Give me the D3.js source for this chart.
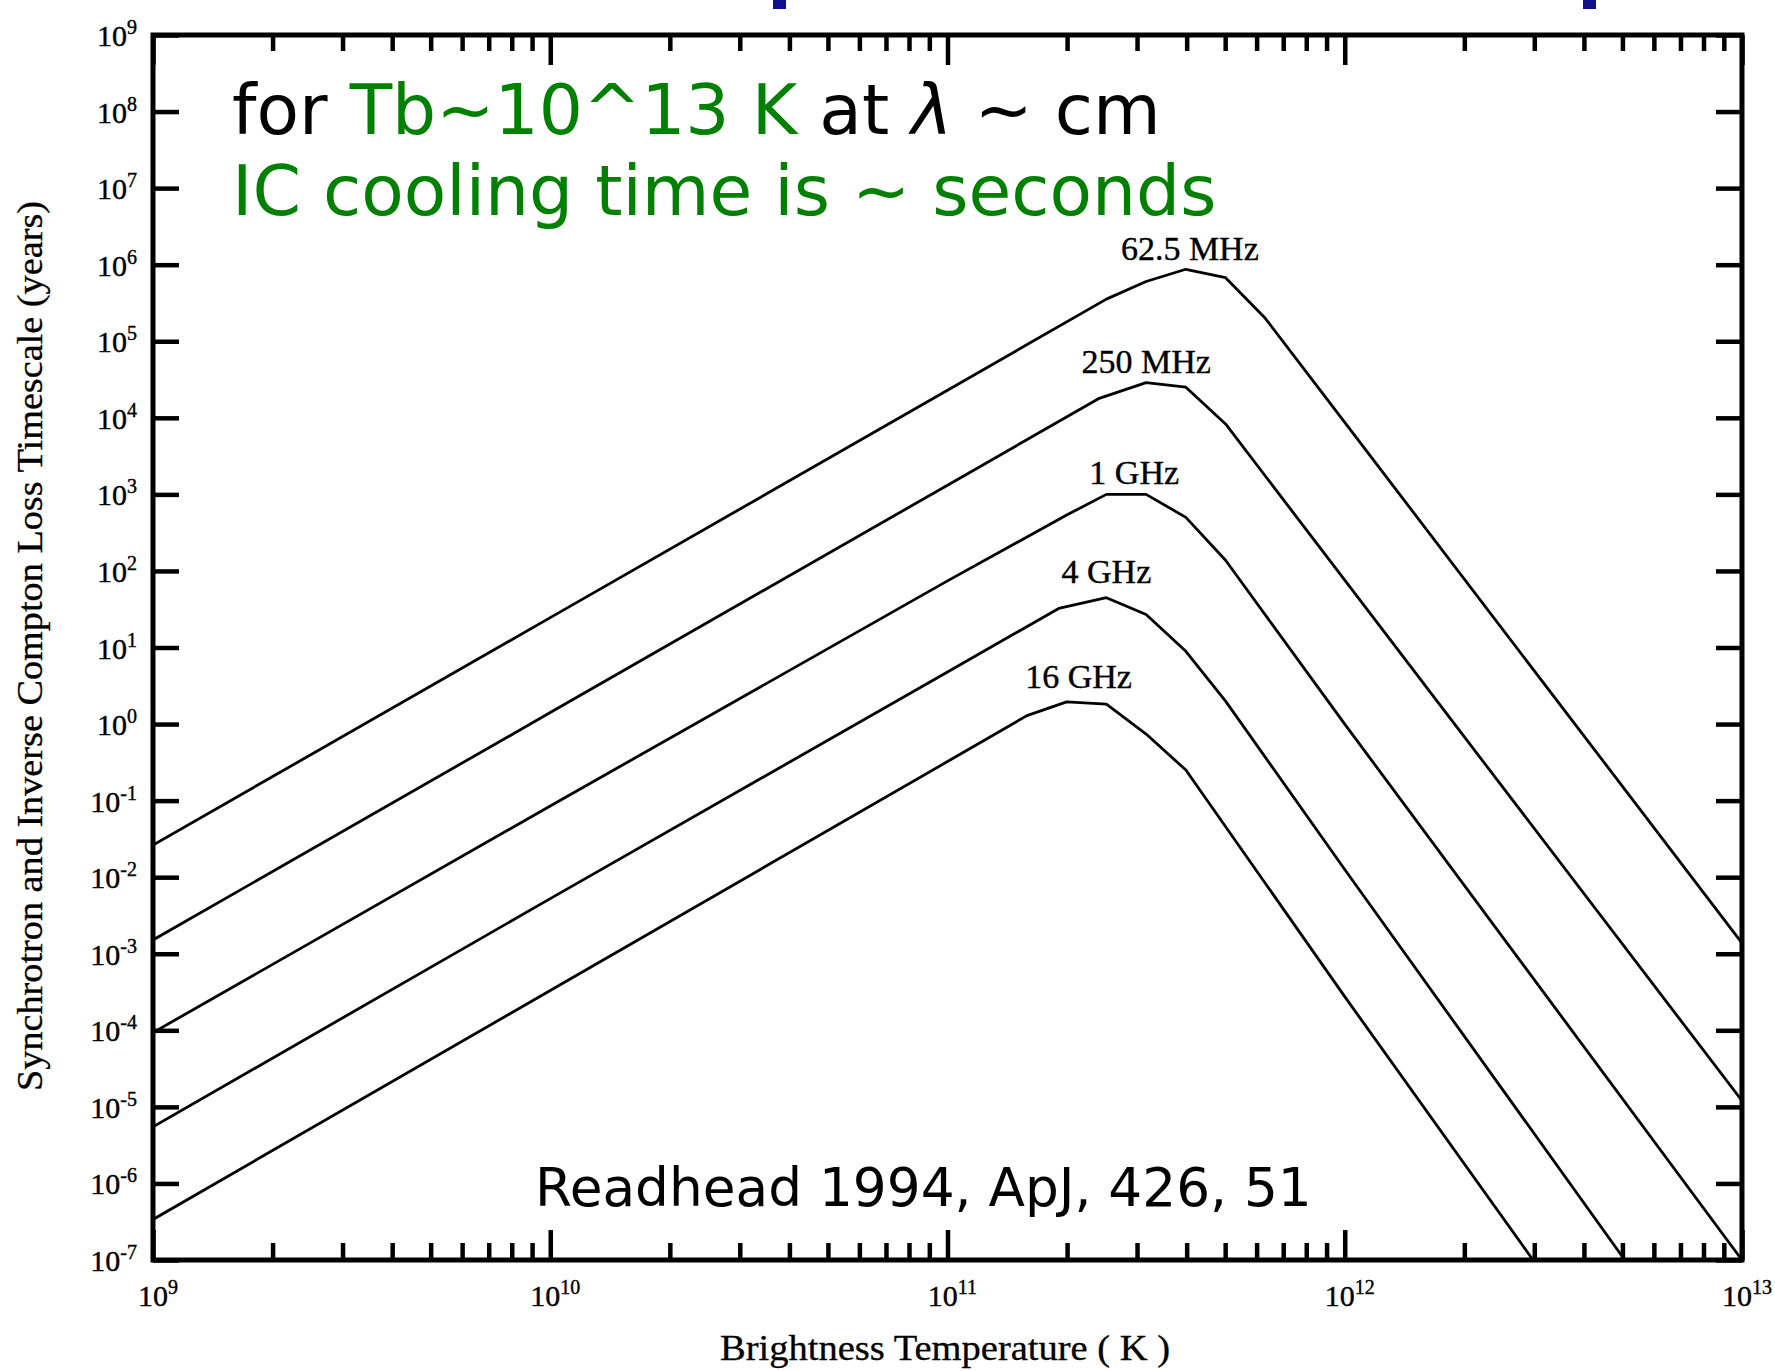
<!DOCTYPE html>
<html>
<head>
<meta charset="utf-8">
<script src="https://cdn.jsdelivr.net/npm/d3@7.9.0/dist/d3.min.js"></script>
<style>
  html, body { margin: 0; padding: 0; background: #fff; }
  svg { display: block; }
</style>
</head>
<body>
<div id="chart"></div>
<script>
// curve labels (observing frequency)
const freqLabels = ["62.5 MHz", "250 MHz", "1 GHz", "4 GHz", "16 GHz"];

// log10 brightness temperature (K) and log10 loss timescale (years)
const logTb62 = [9.0, 10.0, 11.0, 11.4, 11.5, 11.6, 11.7, 11.8, 12.0, 13.0];
const logTime62 = [-1.58, 1.39, 4.36, 5.55, 5.78, 5.94, 5.83, 5.30, 3.94, -2.86];

const logTb250 = [9.0, 10.0, 11.0, 11.38, 11.5, 11.6, 11.7, 11.8, 12.0, 13.0];
const logTime250 = [-2.82, 0.15, 3.12, 4.25, 4.46, 4.40, 3.92, 3.24, 1.88, -4.92];

const logTb1g = [9.0, 10.0, 11.0, 11.3, 11.4, 11.5, 11.6, 11.7, 12.0, 13.0];
const logTime1g = [-4.03, -1.07, 1.87, 2.73, 3.00, 3.00, 2.70, 2.14, 0.00, -7.00];

const logTb4g = [9.0, 10.0, 11.0, 11.28, 11.4, 11.5, 11.6, 11.7, 12.0, 12.705];
const logTime4g = [-5.26, -2.28, 0.68, 1.51, 1.65, 1.43, 0.95, 0.30, -1.90, -7.00];

const logTb16g = [9.0, 10.0, 11.0, 11.2, 11.3, 11.4, 11.5, 11.6, 12.0, 12.474];
const logTime16g = [-6.47, -3.48, -0.49, 0.11, 0.29, 0.26, -0.13, -0.60, -3.56, -7.00];

// where each curve label sits (log Tb, log years at baseline)
const labelTb = [11.61, 11.5, 11.47, 11.40, 11.33];
const labelTime = [6.06, 4.585, 3.14, 1.84, 0.47];

// axis decades
const xDecades = [9, 10, 11, 12, 13];
const yDecades = d3.range(-7, 10);

const W = 1775, H = 1371;
const L = 153, R = 1742, T = 35, B = 1260;

const svg = d3.select("#chart").append("svg")
  .attr("width", W)
  .attr("height", H);

const x = d3.scaleLog().domain([1e9, 1e13]).range([L, R]);
const y = d3.scaleLog().domain([1e-7, 1e9]).range([B, T]);

// blue scraps of a cut-off heading along the top edge
svg.append("rect").attr("x", 773).attr("y", 0).attr("width", 13).attr("height", 9).attr("fill", "#10108a");
svg.append("rect").attr("x", 1583).attr("y", 0).attr("width", 13).attr("height", 9).attr("fill", "#10108a");

const serif = "'Liberation Serif', 'Times New Roman', serif";
const sans = "'DejaVu Sans', sans-serif";

// ticks
const minorX = [];
for (let d = 9; d < 13; d++) for (let k = 2; k <= 9; k++) minorX.push(k * Math.pow(10, d));
const majorX = xDecades.map(d => Math.pow(10, d));
const majorY = yDecades.map(d => Math.pow(10, d));

function tickStyle(g) {
  g.select(".domain").remove();
  g.selectAll("line").attr("stroke", "#000").attr("stroke-width", 4.5);
  g.selectAll("text").remove();
}

svg.append("g").attr("transform", `translate(0,${B})`)
  .call(d3.axisBottom(x).tickValues(majorX).tickSize(-30).tickFormat(""))
  .call(tickStyle);
svg.append("g").attr("transform", `translate(0,${B})`)
  .call(d3.axisBottom(x).tickValues(minorX).tickSize(-17).tickFormat(""))
  .call(tickStyle);
svg.append("g").attr("transform", `translate(0,${T})`)
  .call(d3.axisTop(x).tickValues(majorX).tickSize(-30).tickFormat(""))
  .call(tickStyle);
svg.append("g").attr("transform", `translate(0,${T})`)
  .call(d3.axisTop(x).tickValues(minorX).tickSize(-16).tickFormat(""))
  .call(tickStyle);
svg.append("g").attr("transform", `translate(${L},0)`)
  .call(d3.axisLeft(y).tickValues(majorY).tickSize(-26).tickFormat(""))
  .call(tickStyle);
svg.append("g").attr("transform", `translate(${R},0)`)
  .call(d3.axisRight(y).tickValues(majorY).tickSize(-26).tickFormat(""))
  .call(tickStyle);

// frame
svg.append("rect")
  .attr("x", L).attr("y", T)
  .attr("width", R - L).attr("height", B - T)
  .attr("fill", "none")
  .attr("stroke", "#000")
  .attr("stroke-width", 5);

// tick labels with superscript exponents
function powerLabel(sel, exp) {
  sel.append("tspan").text("10");
  sel.append("tspan")
    .attr("dy", -12)
    .attr("font-size", 20)
    .text(exp);
}

yDecades.forEach(d => {
  svg.append("text")
    .attr("x", 137)
    .attr("y", y(Math.pow(10, d)) + 11)
    .attr("text-anchor", "end")
    .attr("font-family", serif)
    .attr("font-size", 30)
    .attr("stroke", "#000")
    .attr("stroke-width", 0.4)
    .call(powerLabel, d);
});

xDecades.forEach(d => {
  svg.append("text")
    .attr("x", x(Math.pow(10, d)) + 5)
    .attr("y", 1306)
    .attr("text-anchor", "middle")
    .attr("font-family", serif)
    .attr("font-size", 30)
    .attr("stroke", "#000")
    .attr("stroke-width", 0.4)
    .call(powerLabel, d);
});

// axis titles
svg.append("text")
  .attr("x", 945).attr("y", 1360)
  .attr("text-anchor", "middle")
  .attr("font-family", serif)
  .attr("font-size", 35)
  .attr("textLength", 450)
  .attr("lengthAdjust", "spacingAndGlyphs")
  .attr("stroke", "#000")
  .attr("stroke-width", 0.3)
  .text("Brightness Temperature ( K )");

svg.append("text")
  .attr("transform", "translate(42,646) rotate(-90)")
  .attr("text-anchor", "middle")
  .attr("font-family", serif)
  .attr("font-size", 35)
  .attr("textLength", 890)
  .attr("lengthAdjust", "spacingAndGlyphs")
  .attr("stroke", "#000")
  .attr("stroke-width", 0.3)
  .text("Synchrotron and Inverse Compton Loss Timescale (years)");

// curves
const series = [
  [logTb62, logTime62],
  [logTb250, logTime250],
  [logTb1g, logTime1g],
  [logTb4g, logTime4g],
  [logTb16g, logTime16g]
];

svg.append("clipPath").attr("id", "plot")
  .append("rect").attr("x", L).attr("y", T).attr("width", R - L).attr("height", B - T);

const line = d3.line()
  .x(d => x(Math.pow(10, d[0])))
  .y(d => y(Math.pow(10, d[1])));

svg.append("g").attr("clip-path", "url(#plot)")
  .selectAll("path")
  .data(series)
  .enter().append("path")
  .attr("d", s => line(s[0].map((v, i) => [v, s[1][i]])))
  .attr("fill", "none")
  .attr("stroke", "#000")
  .attr("stroke-width", 2.8)
  .attr("stroke-linejoin", "round");

svg.selectAll(".flabel")
  .data(freqLabels)
  .enter().append("text")
  .attr("class", "flabel")
  .attr("x", (d, i) => x(Math.pow(10, labelTb[i])))
  .attr("y", (d, i) => y(Math.pow(10, labelTime[i])))
  .attr("text-anchor", "middle")
  .attr("font-family", serif)
  .attr("font-size", 34)
  .attr("stroke", "#000")
  .attr("stroke-width", 0.4)
  .text(d => d);

// annotations
const note = svg.append("text")
  .attr("x", 232).attr("y", 134)
  .attr("font-family", sans)
  .attr("font-size", 69.5)
  .attr("fill", "#000");
note.append("tspan").text("for ");
note.append("tspan").attr("fill", "#008000").text("Tb~10^13 K");
note.append("tspan").text(" at ");
note.append("tspan").attr("font-style", "italic").text("λ");
note.append("tspan").text(" ~ cm");

svg.append("text")
  .attr("x", 232).attr("y", 215)
  .attr("font-family", sans)
  .attr("font-size", 69.5)
  .attr("fill", "#008000")
  .text("IC cooling time is ~ seconds");

svg.append("text")
  .attr("x", 535).attr("y", 1206)
  .attr("font-family", sans)
  .attr("font-size", 53.3)
  .attr("fill", "#000")
  .text("Readhead 1994, ApJ, 426, 51");
</script>
</body>
</html>
